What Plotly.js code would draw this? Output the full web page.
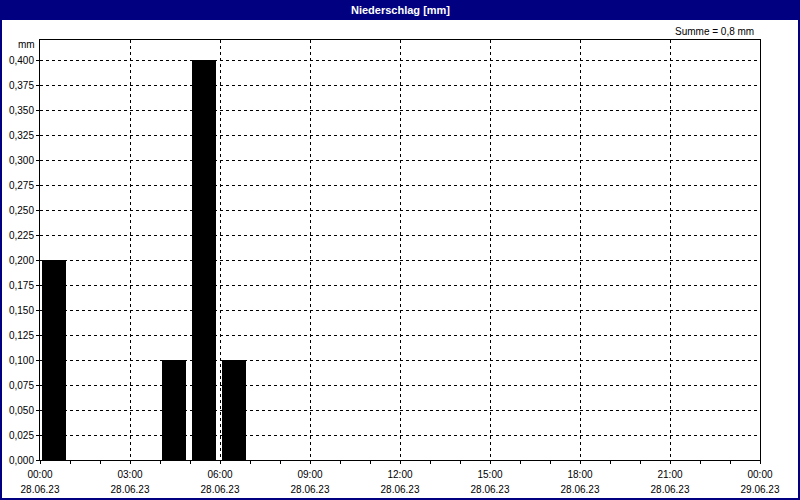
<!DOCTYPE html>
<html>
<head>
<meta charset="utf-8">
<script src="https://cdn.plot.ly/plotly-3.0.1.min.js"></script>
<style>html,body{margin:0;padding:0;background:#fff;}#chart{width:800px;height:500px;}</style>
</head>
<body>
<div id="chart"></div>
<script>
// Data
const hours = ["2023-06-28 00:00","2023-06-28 01:00","2023-06-28 02:00","2023-06-28 03:00","2023-06-28 04:00","2023-06-28 05:00","2023-06-28 06:00","2023-06-28 07:00","2023-06-28 08:00","2023-06-28 09:00","2023-06-28 10:00","2023-06-28 11:00","2023-06-28 12:00","2023-06-28 13:00","2023-06-28 14:00","2023-06-28 15:00","2023-06-28 16:00","2023-06-28 17:00","2023-06-28 18:00","2023-06-28 19:00","2023-06-28 20:00","2023-06-28 21:00","2023-06-28 22:00","2023-06-28 23:00"];
const precip = [0.2,0,0,0,0.1,0.4,0.1,0,0,0,0,0,0,0,0,0,0,0,0,0,0,0,0,0];
const xRange = ["2023-06-28 00:00", "2023-06-29 00:00"];
const titleText = "Niederschlag [mm]";
const sumText = "Summe = 0,8 mm";
const yUnit = "mm";

const HOUR = 3600000;
const W = 800, H = 500, L = 40, R = 40, T = 40, B = 40;
const pw = W - L - R, ph = H - T - B;
const px = v => (v - L) / pw;
const py = v => (H - B - v) / ph;
const navy = "#000080";
const fnt = "Liberation Sans, Arial, sans-serif";

const trace = {
  type: "bar",
  x: hours,
  y: precip,
  width: 0.8 * HOUR,
  offset: HOUR * 2 / 30,
  marker: {color: "#000000", line: {width: 0}},
  hoverinfo: "x+y"
};
// invisible helper so the date-line axis (x2) is drawn
const dateAxisTrace = {
  type: "scatter", mode: "none",
  x: hours, y: precip,
  xaxis: "x2", yaxis: "y",
  hoverinfo: "skip", showlegend: false
};

const layout = {
  width: W, height: H,
  margin: {l: L, r: R, t: T, b: B, pad: 0},
  paper_bgcolor: "#ffffff",
  plot_bgcolor: "#ffffff",
  separators: ",.",
  showlegend: false,
  bargap: 0,
  font: {family: fnt, size: 10, color: "#000000"},
  xaxis: {
    type: "date",
    range: xRange,
    tick0: xRange[0],
    dtick: 3 * HOUR,
    tickformat: "%H:%M",
    ticks: "outside", ticklen: 3, tickcolor: "#000", tickwidth: 1,
    ticklabelstandoff: 2,
    showgrid: true, gridcolor: "#000", gridwidth: 1, griddash: "3px,3px",
    showline: true, linecolor: "#000", linewidth: 1, mirror: true,
    zeroline: false,
    minor: {dtick: HOUR, ticks: "outside", ticklen: 3, tickcolor: "#000", showgrid: false},
    tickfont: {family: fnt, size: 10, color: "#000"},
    fixedrange: true
  },
  xaxis2: {
    type: "date",
    overlaying: "x",
    anchor: "y",
    side: "bottom",
    range: xRange,
    tick0: xRange[0],
    dtick: 3 * HOUR,
    tickformat: "%d.%m.%y",
    ticks: "",
    ticklabelstandoff: 22,
    showgrid: false, showline: false, zeroline: false,
    tickfont: {family: fnt, size: 10, color: "#000"},
    fixedrange: true
  },
  yaxis: {
    range: [0, 0.42],
    tick0: 0, dtick: 0.025,
    tickformat: ".3f",
    ticks: "outside", ticklen: 3, tickcolor: "#000",
    showgrid: true, gridcolor: "#000", gridwidth: 1, griddash: "3px,3px",
    showline: true, linecolor: "#000", linewidth: 1, mirror: true,
    zeroline: false,
    tickfont: {family: fnt, size: 10, color: "#000"},
    fixedrange: true
  },
  shapes: [
    {type: "rect", xref: "paper", yref: "paper", x0: px(0), x1: px(800), y0: py(0), y1: py(20),
     fillcolor: navy, line: {width: 0}, layer: "above"},
    {type: "rect", xref: "paper", yref: "paper", x0: px(1), x1: px(799), y0: py(1), y1: py(499),
     fillcolor: "rgba(0,0,0,0)", line: {color: navy, width: 2}, layer: "above"}
  ],
  annotations: [
    {text: "<b>" + titleText + "</b>", xref: "paper", yref: "paper", x: 0.5, y: py(10),
     xanchor: "center", yanchor: "middle", showarrow: false,
     font: {family: fnt, size: 11, color: "#ffffff"}},
    {text: sumText, xref: "paper", yref: "paper", x: px(756), y: py(31),
     xanchor: "right", yanchor: "middle", showarrow: false,
     font: {family: fnt, size: 10, color: "#000"}},
    {text: yUnit, xref: "paper", yref: "paper", x: px(37), y: py(45),
     xanchor: "right", yanchor: "middle", showarrow: false,
     font: {family: fnt, size: 10, color: "#000"}}
  ]
};

Plotly.newPlot("chart", [trace, dateAxisTrace], layout, {displayModeBar: false, staticPlot: true});
</script>
</body>
</html>
